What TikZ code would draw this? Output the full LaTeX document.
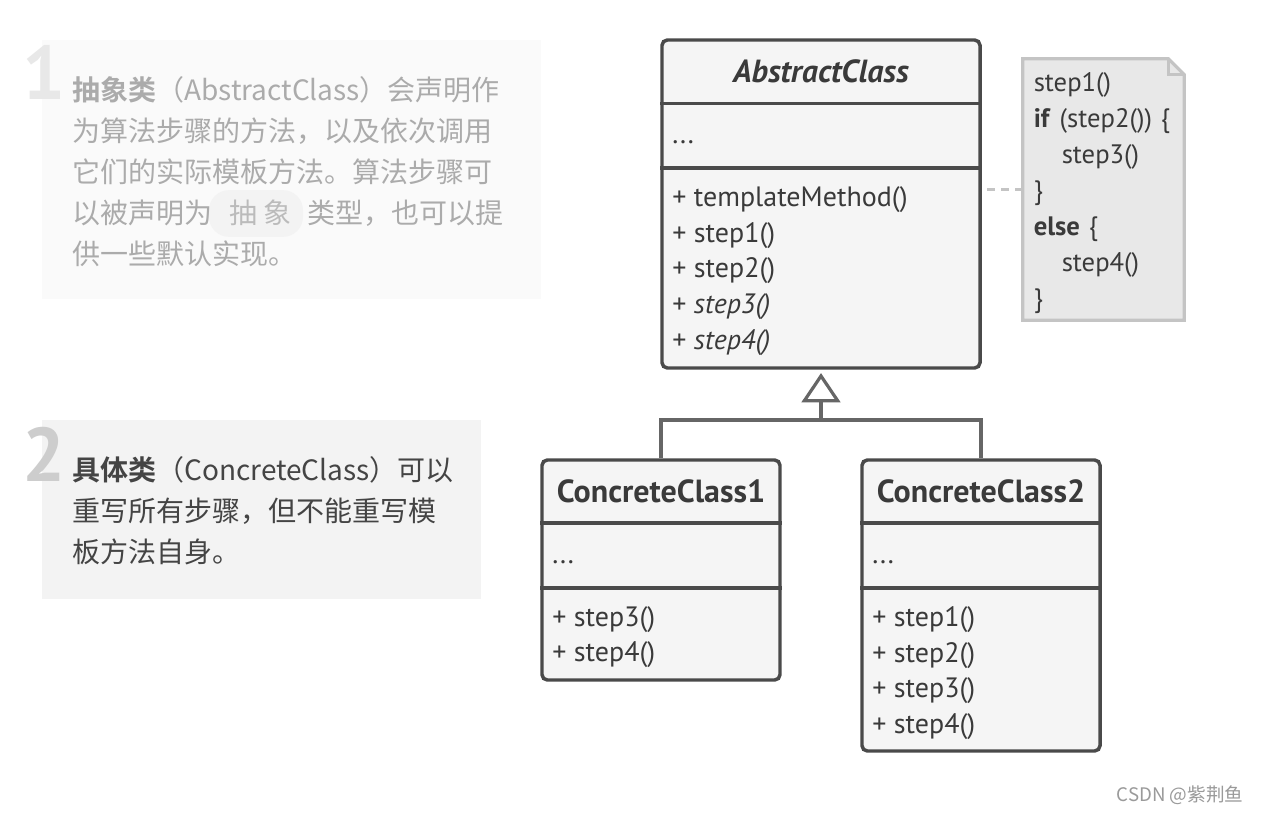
\documentclass[tikz,border=0pt]{standalone}
\usepackage{fontspec}
\setmainfont{PT Sans}
\newfontfamily\cjk{Noto Sans CJK SC}[BoldFont={Noto Sans CJK SC Bold}]
\usetikzlibrary{arrows.meta}
\definecolor{ink}{HTML}{4A4A4A}
\definecolor{wire}{HTML}{666666}
\definecolor{txt}{HTML}{3A3A3A}
\definecolor{boxfill}{HTML}{F5F5F5}
\definecolor{notefill}{HTML}{E8E8E8}
\definecolor{noteline}{HTML}{C4C4C4}
\definecolor{panelA}{HTML}{FAFAFA}
\definecolor{panelB}{HTML}{F3F3F3}
\definecolor{chipfill}{HTML}{F3F3F3}
\definecolor{fadetxt}{HTML}{ABABAB}
\definecolor{chiptxt}{HTML}{BBBBBB}
\definecolor{numA}{HTML}{E8E8E8}
\definecolor{numB}{HTML}{CDCDCD}
\definecolor{darktxt}{HTML}{444444}
\definecolor{marktxt}{HTML}{9A9A9A}

\begin{document}
\begin{tikzpicture}[x=0.75pt,y=-0.75pt]
	\tikzstyle{classbox}=[draw=ink,fill=boxfill,line width=2.6pt,rounded corners=4pt,inner sep=0pt,minimum width=178.5pt];
	\tikzstyle{sep}=[draw=ink,line width=2.6pt];
	\tikzstyle{classname}=[font=\fontsize{24}{28}\selectfont\bfseries,text=txt,inner sep=0pt];
	\tikzstyle{members}=[font=\fontsize{21}{26.8}\selectfont,text=txt,align=left,inner sep=0pt,anchor=west];
	\tikzstyle{link}=[draw=wire,line width=2.4pt];
	\tikzstyle{notetext}=[font=\fontsize{20}{27}\selectfont,text=txt,align=left,inner sep=0pt,text width=110pt];
	\tikzstyle{noteedge}=[draw=noteline,line width=2.4pt,fill=notefill,line join=miter];
	\tikzstyle{notelink}=[draw=noteline,line width=2.4pt,dash pattern=on 6pt off 4.5pt];
	\tikzstyle{panel}=[draw=none,inner sep=0pt];
	\tikzstyle{bignum}=[font=\fontsize{57}{60}\selectfont\bfseries,inner sep=0pt];
	\tikzstyle{desc}=[font=\cjk\fontsize{21}{30.75}\selectfont,align=left,inner sep=0pt,anchor=north west];

	\useasboundingbox[fill=white] (0,0) rectangle (1262,813);

	% left notes
	\node at (291.5,169.5) (panel1) [panel,fill=panelA,minimum width=374.25pt,minimum height=194.25pt] {};
	\node at (261.5,509.5) (panel2) [panel,fill=panelB,minimum width=329.25pt,minimum height=134.25pt] {};
	\node at (44.5,72.5) (num1) [bignum,text=numA] {1};
	\node at (44.5,454) (num2) [bignum,text=numB] {2};
	\node at (256,213.5) (chip) [panel,fill=chipfill,rounded corners=15pt,minimum width=70.5pt,minimum height=35pt] {};
	\node at (72,76) (desc1) [desc,text=fadetxt] {\textbf{抽象类}（AbstractClass）会声明作\\为算法步骤的方法，以及依次调用\\它们的实际模板方法。算法步骤可\\以被声明为\hspace*{12.75pt}{\color{chiptxt}抽\hspace{5pt}象}\hspace*{12pt}类型，也可以提\\供一些默认实现。};
	\node at (72,456) (desc2) [desc,text=darktxt] {\textbf{具体类}（ConcreteClass）可以\\重写所有步骤，但不能重写模\\板方法自身。};

	% classes
	\node at (821,204) (abs) [classbox,minimum width=238.5pt,minimum height=246pt] {};
	\draw[sep] (abs.west |- 0,103.5) -- (abs.east |- 0,103.5);
	\draw[sep] (abs.west |- 0,168) -- (abs.east |- 0,168);
	\node at (821,71) (absname) [classname] {\textit{AbstractClass}};
	\node at (672,142) (absattr) [members] {...};
	\node at (672,271) (absops) [members] {+ templateMethod()\\+ step1()\\+ step2()\\+ \textit{step3()}\\+ \textit{step4()}};

	\node at (661,570) (cc1) [classbox,minimum height=165pt] {};
	\draw[sep] (cc1.west |- 0,523) -- (cc1.east |- 0,523);
	\draw[sep] (cc1.west |- 0,588) -- (cc1.east |- 0,588);
	\node at (661,491) (cc1name) [classname] {ConcreteClass1};
	\node at (552,562) (cc1attr) [members] {...};
	\node at (552,637) (cc1ops) [members] {+ step3()\\+ step4()};

	\node at (981,605.5) (cc2) [classbox,minimum height=218.25pt] {};
	\draw[sep] (cc2.west |- 0,523) -- (cc2.east |- 0,523);
	\draw[sep] (cc2.west |- 0,588) -- (cc2.east |- 0,588);
	\node at (981,491) (cc2name) [classname] {ConcreteClass2};
	\node at (872,562) (cc2attr) [members] {...};
	\node at (872,673) (cc2ops) [members] {+ step1()\\+ step2()\\+ step3()\\+ step4()};

	\coordinate (fork) at (821,420);
	\draw[link] (cc1.north) |- (fork) -| (cc2.north);
	\draw[link,-{Triangle[open,length=22pt,width=29pt,fill=white]},shorten >=2.5pt] (fork) -- (abs.south);

	% note
	\node at (1103.5,189.5) (note) [panel,minimum width=120.75pt,minimum height=195.75pt] {};
	\draw[noteedge] (note.south west) -- (note.north west) -- ([xshift=-12pt]note.north east) -- ([yshift=-12pt]note.north east) -- (note.south east) -- cycle;
	\draw[draw=noteline,line width=2.4pt] ([xshift=-12pt]note.north east) |- ([yshift=-12pt]note.north east);
	\node at ([xshift=63.25pt,yshift=-2.5pt]note.west) (notebody) [notetext] {step1()\\\textbf{if} (step2()) \{\\\hspace*{21pt}step3()\\\}\\\textbf{else} \{\\\hspace*{21pt}step4()\\\}};
	\draw[notelink] (note.west) -- (note.west -| abs.east);

	\node at (1180,795) (mark) [font=\cjk\fontsize{14}{16}\selectfont,text=marktxt] {CSDN @紫荆鱼};
\end{tikzpicture}
\end{document}
